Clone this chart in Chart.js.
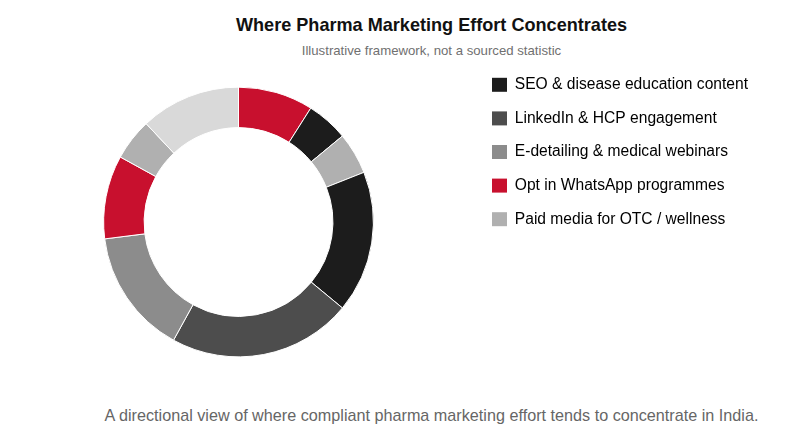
<!DOCTYPE html>
<html>
<head>
<meta charset="utf-8">
<script src="https://cdn.jsdelivr.net/npm/chart.js@4.4.1/dist/chart.umd.min.js"></script>
<style>
    html, body { margin: 0; padding: 0; background: #fff; }
    body { width: 785px; height: 435px; position: relative; overflow: hidden; font-family: "Liberation Sans", Arial, sans-serif; }
    .txt { position: absolute; left: 78px; right: 0; text-align: center; white-space: nowrap; }
    #title { top: 15px; font-size: 18.1px; line-height: 20px; font-weight: bold; color: #111; }
    #subtitle { top: 43px; font-size: 13.2px; line-height: 16px; color: #707070; }
    #footer { top: 405px; font-size: 16.2px; line-height: 20px; color: #666; }
    #wrap { position: absolute; left: 0; top: 59px; width: 785px; height: 326px; }
</style>
</head>
<body>
<div id="title" class="txt">Where Pharma Marketing Effort Concentrates</div>
<div id="subtitle" class="txt">Illustrative framework, not a sourced statistic</div>
<div id="wrap"><canvas id="chart"></canvas></div>
<div id="footer" class="txt">A directional view of where compliant pharma marketing effort tends to concentrate in India.</div>
<script>
// legend categories
const categories = [
    'SEO & disease education content',
    'LinkedIn & HCP engagement',
    'E-detailing & medical webinars',
    'Opt in WhatsApp programmes',
    'Paid media for OTC / wellness'
];
const categoryColors = ['#1c1c1c', '#4d4d4d', '#8c8c8c', '#c8102e', '#b0b0b0'];

// ring segments, clockwise from 12 o'clock
const segmentLabels = [
    'Opt in WhatsApp programmes',
    'SEO & disease education content',
    'Paid media for OTC / wellness',
    'SEO & disease education content',
    'LinkedIn & HCP engagement',
    'E-detailing & medical webinars',
    'Opt in WhatsApp programmes',
    'Paid media for OTC / wellness',
    'Other'
];
const segmentValues = [9, 5, 5, 17, 22, 15, 10, 5, 12];
const segmentColors = ['#c8102e', '#1c1c1c', '#b0b0b0', '#1c1c1c', '#4d4d4d', '#8c8c8c', '#c8102e', '#b0b0b0', '#d9d9d9'];

const ctx = document.getElementById('chart').getContext('2d');
new Chart(ctx, {
    type: 'doughnut',
    data: {
        labels: segmentLabels,
        datasets: [{
            data: segmentValues,
            backgroundColor: segmentColors,
            borderColor: '#ffffff',
            borderWidth: 1
        }]
    },
    options: {
        responsive: true,
        maintainAspectRatio: false,
        animation: false,
        cutout: '70%',
        radius: '83%',
        layout: { padding: { left: 3, right: 27, top: 0, bottom: 0 } },
        plugins: {
            legend: {
                position: 'right',
                align: 'start',
                labels: {
                    boxWidth: 15,
                    boxHeight: 14,
                    padding: 18,
                    color: '#222',
                    font: { family: '"Liberation Sans", Arial, sans-serif', size: 15.6 },
                    // legend shows the five categories, not every ring segment
                    generateLabels: () => categories.map((text, i) => ({
                        text: text,
                        fillStyle: categoryColors[i],
                        strokeStyle: categoryColors[i],
                        lineWidth: 0,
                        hidden: false,
                        index: i
                    }))
                },
                onClick: () => {}
            },
            tooltip: { enabled: true }
        }
    }
});
</script>
</body>
</html>
